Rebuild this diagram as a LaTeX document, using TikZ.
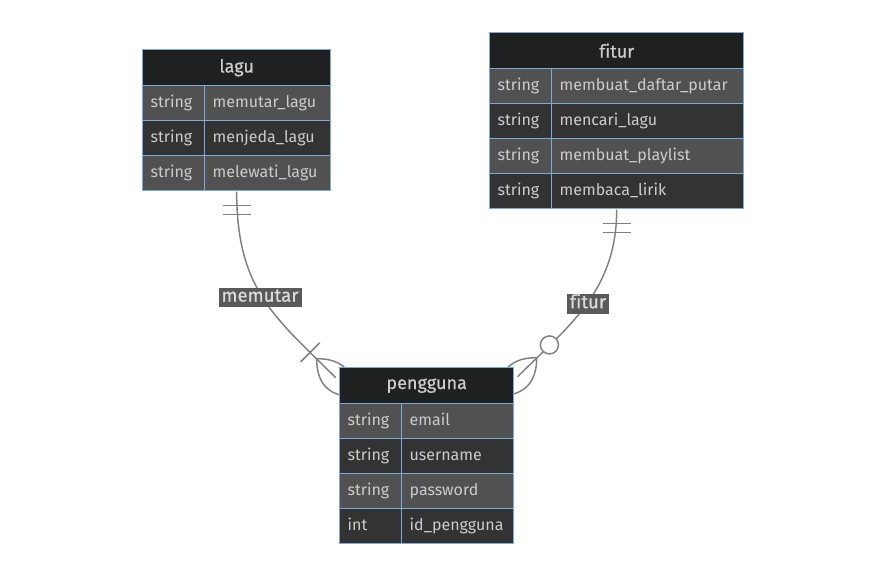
\documentclass[tikz,border=0pt]{standalone}
\usepackage{fontspec}
\setmainfont{Fira Sans}[Ligatures=NoCommon]
\newfontfamily\hdfont{Fira Sans}[FakeBold=0.6,Ligatures=NoCommon]
\usetikzlibrary{calc,fit}
\pgfdeclarelayer{background}
\pgfsetlayers{background,main}
\definecolor{erhead}{HTML}{1F2020}
\definecolor{erodd}{HTML}{515151}
\definecolor{ereven}{HTML}{333333}
\definecolor{erborder}{HTML}{7AABDA}
\definecolor{ertext}{HTML}{CCCCCC}
\definecolor{eredge}{HTML}{808080}
\definecolor{erlabel}{HTML}{5A5A5A}
\newcommand\erhdr[5]{%
  \node[hd, minimum width=(#3-#2)*0.75pt] (#1) at (#2,#4) {#5};}
\newcommand\errow[8]{%
  \node[cell, fill=#8, minimum width=(#3-#2)*0.75pt, text width=(#3-#2-16)*0.75pt] (#1t) at (#2,#5) {#6};
  \node[cell, fill=#8, minimum width=(#4-#3)*0.75pt, text width=(#4-#3-16)*0.75pt] (#1n) at (#3,#5) {#7};}
\begin{document}
\begin{tikzpicture}[x=0.75pt,y=-0.75pt,
  cell/.style={draw=erborder, line width=1pt, anchor=north west, inner xsep=8*0.75pt, inner ysep=0pt,
    minimum height=35*0.75pt, text=ertext, align=left, text height=1.6ex, text depth=0.45ex,
    font=\fontsize{12}{14}\selectfont},
  hd/.style={draw=erborder, line width=1pt, fill=erhead, anchor=north west, inner sep=0pt,
    minimum height=36*0.75pt, text=ertext, font=\hdfont\fontsize{13.5}{16}\selectfont},
  edge/.style={draw=eredge, line width=1.1pt},
  rel/.style={fill=erlabel, text=ertext!70!white, inner xsep=3*0.75pt, inner ysep=0pt,
    minimum height=19.5*0.75pt, text height=1.55ex, text depth=0.35ex,
    font=\hdfont\fontsize{14}{16}\selectfont}]
\useasboundingbox (0,0) rectangle (885,575);
% lagu
\erhdr{laguh}{142}{330}{49}{lagu}
\errow{laguA}{142}{204}{330}{85}{string}{memutar\_lagu}{erodd}
\errow{laguB}{142}{204}{330}{120}{string}{menjeda\_lagu}{ereven}
\errow{laguC}{142}{204}{330}{155}{string}{melewati\_lagu}{erodd}
\node[fit=(laguh)(laguCn), inner sep=0pt] (lagu) {};
% fitur
\erhdr{fiturh}{489}{743}{32}{fitur}
\errow{fiturA}{489}{551}{743}{68}{string}{membuat\_daftar\_putar}{erodd}
\errow{fiturB}{489}{551}{743}{103}{string}{mencari\_lagu}{ereven}
\errow{fiturC}{489}{551}{743}{138}{string}{membuat\_playlist}{erodd}
\errow{fiturD}{489}{551}{743}{173}{string}{membaca\_lirik}{ereven}
\node[fit=(fiturh)(fiturDn), inner sep=0pt] (fitur) {};
% pengguna
\erhdr{penggunah}{339}{513}{367}{pengguna}
\errow{pengA}{339}{401}{513}{403}{string}{email}{erodd}
\errow{pengB}{339}{401}{513}{438}{string}{username}{ereven}
\errow{pengC}{339}{401}{513}{473}{string}{password}{erodd}
\errow{pengD}{339}{401}{513}{508}{int}{id\_pengguna}{ereven}
\node[fit=(penggunah)(pengDn), inner sep=0pt] (pengguna) {};
% connector end points
\coordinate (E1) at ($(pengguna.north west)+(-3,11)$);
\coordinate (E2) at ($(pengguna.north east)+(3,10)$);
\begin{pgfonlayer}{background}
  % lagu -- pengguna
  \draw[edge] (lagu.south) .. controls +(0,99) and +(-60,-60) .. (E1);
  \draw[edge] ($(lagu.south)+(-14,14)$) -- ($(lagu.south)+(14,14)$);
  \draw[edge] ($(lagu.south)+(-14,23)$) -- ($(lagu.south)+(14,23)$);
  \draw[edge] ($(E1)+(-35,-16)$) -- ($(E1)+(-16,-35)$);
  \draw[edge] ($(E1)+(-19.09,-19.09)$)
     .. controls ($(E1)+(6.36,-19.09)$) and ($(E1)+(19.09,-6.36)$) .. ($(E1)+(19.09,19.09)$)
     .. controls ($(E1)+(-6.36,19.09)$) and ($(E1)+(-19.09,6.36)$) .. cycle;
  % fitur -- pengguna
  \draw[edge] (fitur.south) .. controls +(0,82) and +(50,-50) .. (E2);
  \draw[edge] ($(fitur.south)+(-14,14)$) -- ($(fitur.south)+(14,14)$);
  \draw[edge] ($(fitur.south)+(-14,23)$) -- ($(fitur.south)+(14,23)$);
  \draw[edge, fill=white] ($(E2)+(31.82,-31.82)$) circle[radius=9];
  \draw[edge] ($(E2)+(19.09,-19.09)$)
     .. controls ($(E2)+(19.09,6.36)$) and ($(E2)+(6.36,19.09)$) .. ($(E2)+(-19.09,19.09)$)
     .. controls ($(E2)+(-19.09,-6.36)$) and ($(E2)+(-6.36,-19.09)$) .. cycle;
\end{pgfonlayer}
\node[rel] (l1) at (260,297.5) {memutar};
\node[rel] (l2) at (588,304) {fitur};
\end{tikzpicture}
\end{document}
